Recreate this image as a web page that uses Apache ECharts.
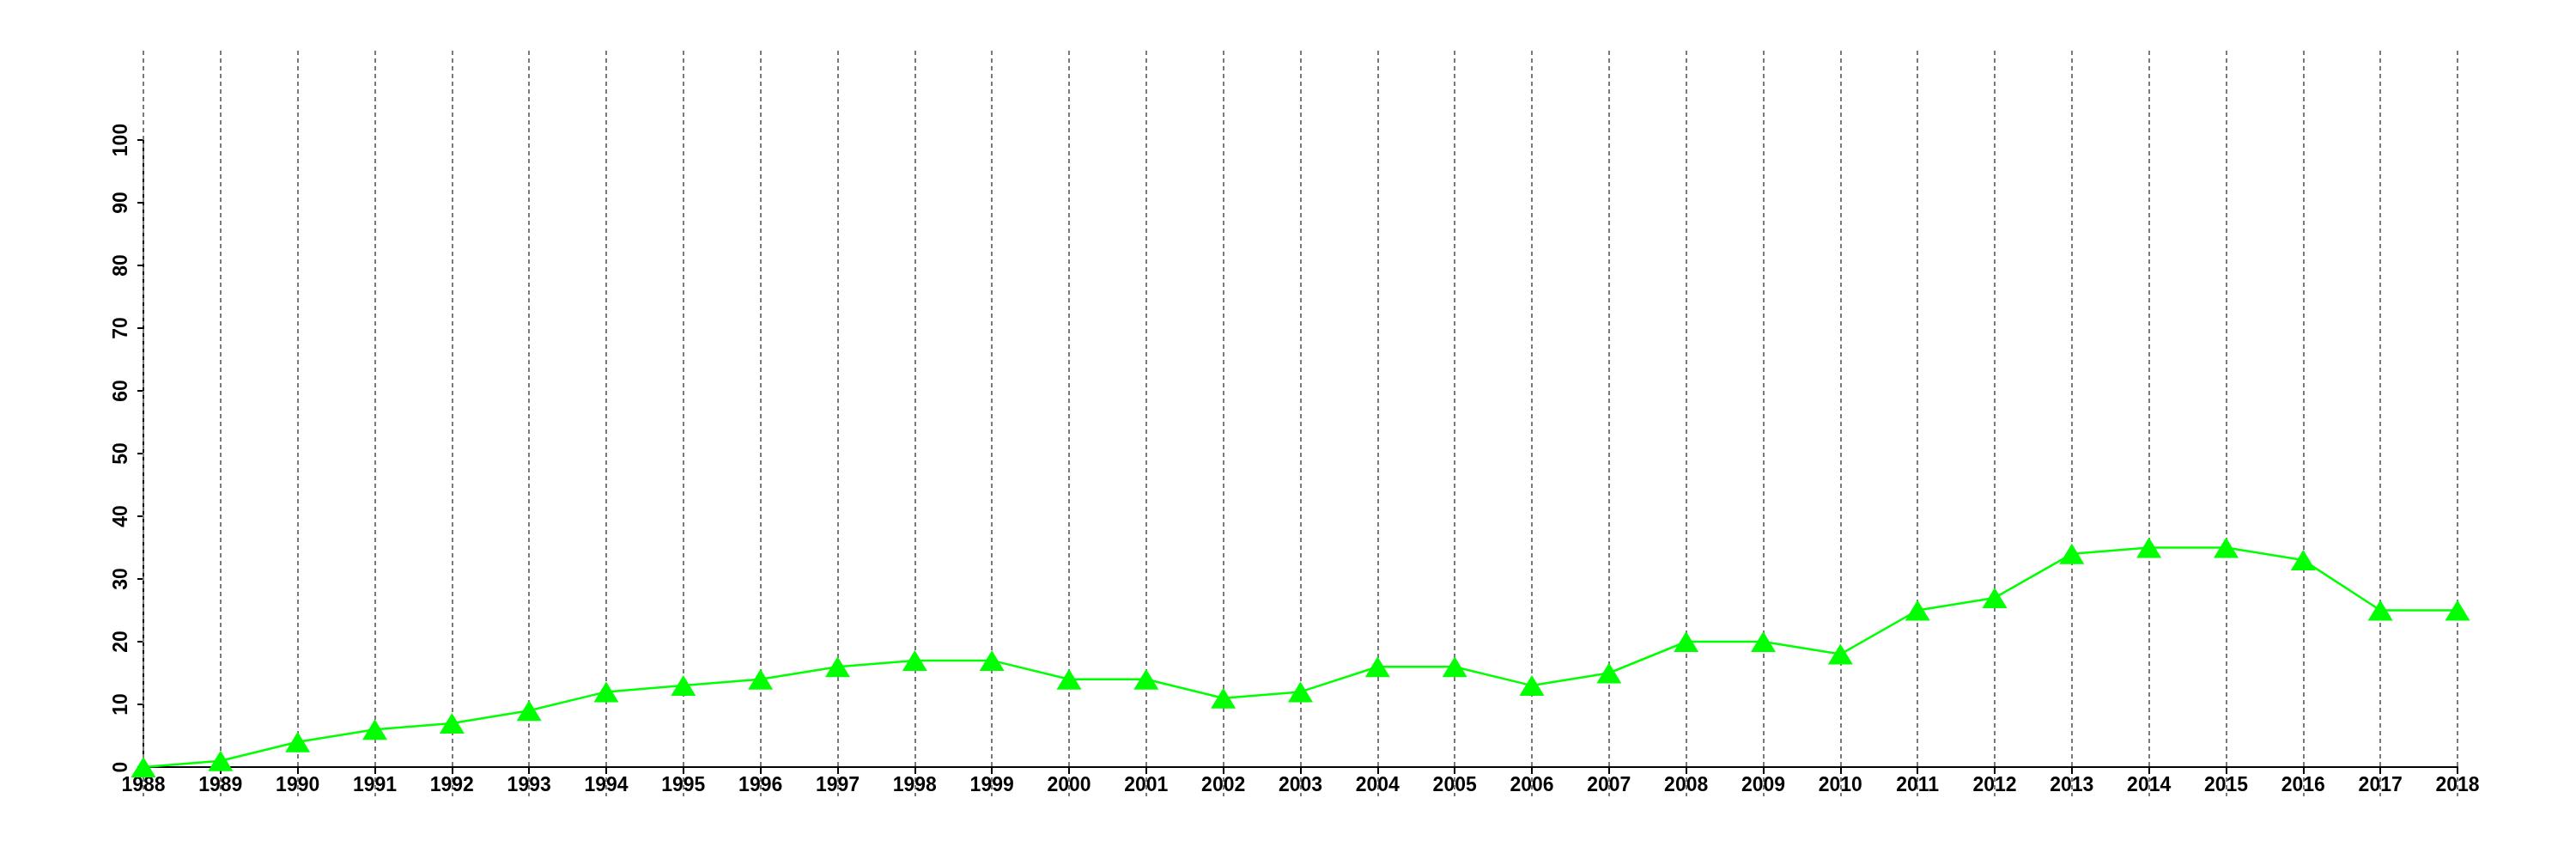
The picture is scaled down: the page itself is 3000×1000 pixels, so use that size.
<!DOCTYPE html>
<html>
<head>
<meta charset="utf-8">
<script src="https://cdn.jsdelivr.net/npm/echarts@6/dist/echarts.min.js"></script>
<style>
html,body{margin:0;padding:0;background:#fff;}
#chart{width:3000px;height:1000px;}
</style>
</head>
<body>
<div id="chart"></div>
<script>
const years = ['1988','1989','1990','1991','1992','1993','1994','1995','1996','1997','1998','1999','2000','2001','2002','2003','2004','2005','2006','2007','2008','2009','2010','2011','2012','2013','2014','2015','2016','2017','2018'];
const values = [0,1,4,6,7,9,12,13,14,16,17,17,14,14,11,12,16,16,13,15,20,20,18,25,27,34,35,35,33,25,25];
const yMin = 0, yMax = 100, yStep = 10;

const chart = echarts.init(document.getElementById('chart'), null, {renderer:'canvas'});
const font = '"Liberation Sans", Arial, Helvetica, sans-serif';
chart.setOption({
  animation:false,
  backgroundColor:'#ffffff',
  grid:[
    {left:167, right:138, top:163, bottom:107},
    {left:167, right:138, top:59, bottom:73}
  ],
  xAxis:[
    {type:'category', gridIndex:0, data:years, boundaryGap:false,
     axisLine:{show:true, lineStyle:{color:'#000', width:2}},
     axisTick:{show:true, alignWithLabel:true, length:8, lineStyle:{color:'#000', width:2}},
     axisLabel:{show:true, interval:0, color:'#000', fontFamily:font, fontWeight:'bold', fontSize:23, margin:10},
     splitLine:{show:false}, z:3},
    {type:'category', gridIndex:1, data:years, boundaryGap:false,
     axisLine:{show:false}, axisTick:{show:false}, axisLabel:{show:false},
     splitLine:{show:true, interval:0, lineStyle:{color:'#7a7a7a', width:2, type:[5,4]}}, z:1}
  ],
  yAxis:[
    {type:'value', gridIndex:0, min:yMin, max:yMax, interval:yStep,
     axisLine:{show:true, lineStyle:{color:'#000', width:2}},
     axisTick:{show:true, length:7, lineStyle:{color:'#000', width:2}},
     axisLabel:{show:true, rotate:90, color:'#000', fontFamily:font, fontWeight:'bold', fontSize:23, margin:14},
     splitLine:{show:false}},
    {type:'value', gridIndex:1, min:0, max:1, show:false, splitLine:{show:false}}
  ],
  series:[
    {type:'line', xAxisIndex:0, yAxisIndex:0, data:values,
     symbol:'triangle', symbolSize:[29,24], showAllSymbol:true,
     lineStyle:{color:'#00ff00', width:2.5},
     itemStyle:{color:'#00ff00'}, z:5, clip:false}
  ]
});
</script>
</body>
</html>
